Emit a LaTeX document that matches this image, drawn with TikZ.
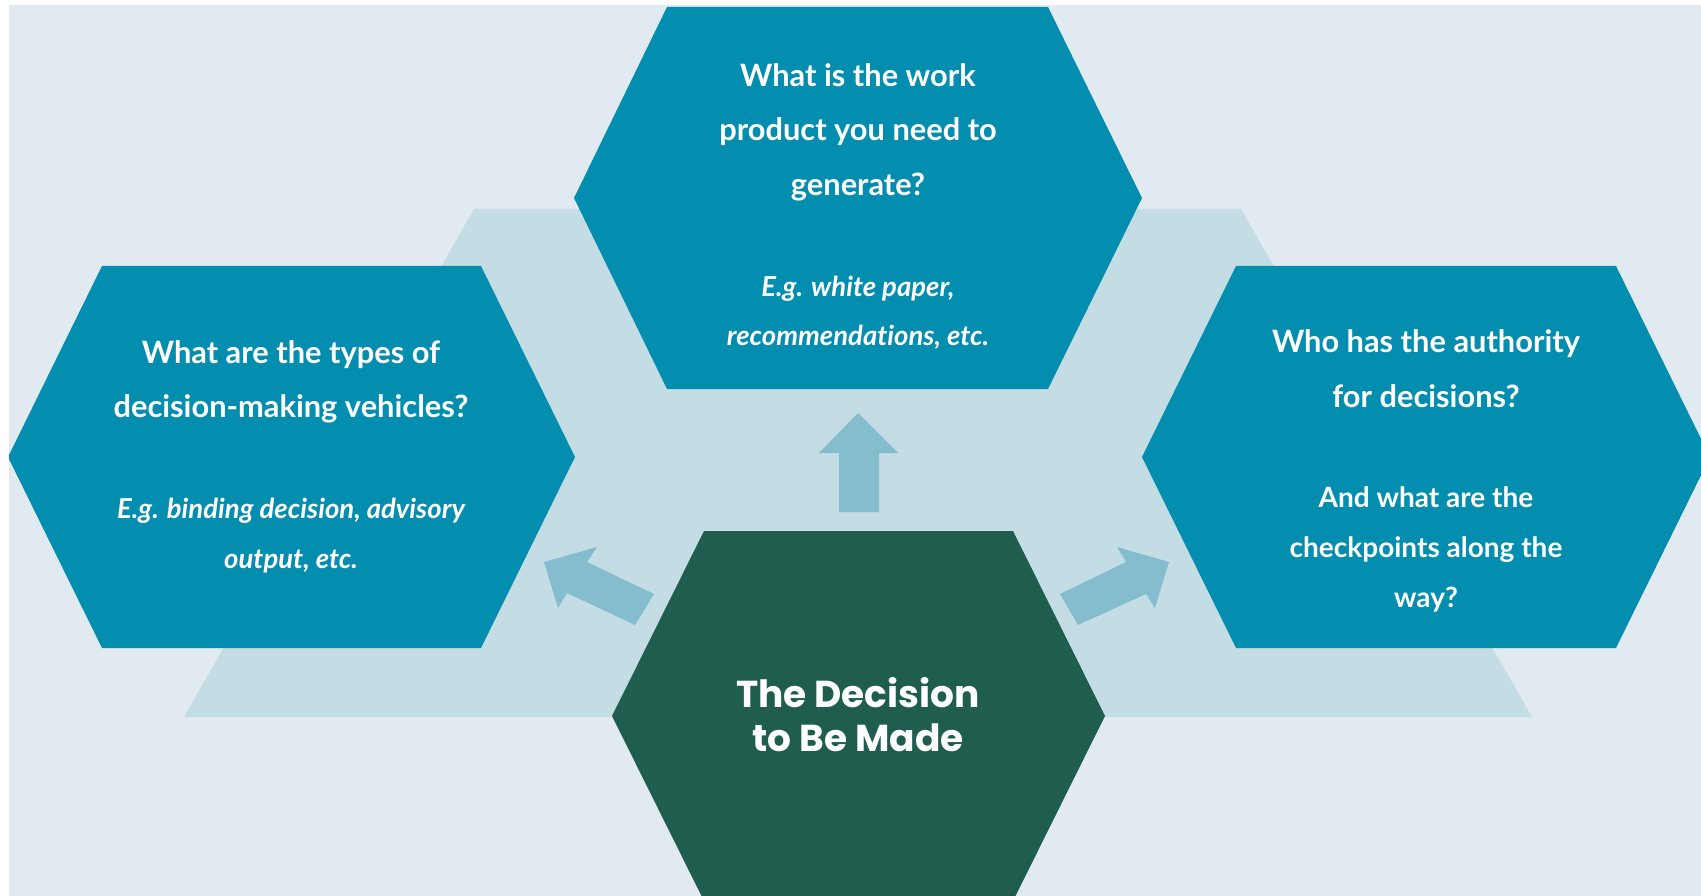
\documentclass[tikz,border=0pt]{standalone}
\usepackage{fontspec}
\setmainfont{Lato}[Ligatures={NoCommon,NoRare}]
\newfontfamily\popfont{Poppins}
\definecolor{bgc}{HTML}{E1EAF0}
\definecolor{trapc}{HTML}{C4DCE4}
\definecolor{tealc}{HTML}{038DAE}
\definecolor{greenc}{HTML}{1F5E4F}
\definecolor{arrowc}{HTML}{84BECE}
\tikzset{
  qline/.style={text=white, anchor=base, inner sep=0pt, font=\fontsize{30.8}{36}\selectfont\bfseries},
  eline/.style={text=white, anchor=base, inner sep=0pt, font=\fontsize{27.5}{32}\selectfont\bfseries\itshape},
  aline/.style={text=white, anchor=base, inner sep=0pt, font=\fontsize{28}{34}\selectfont\bfseries},
  tline/.style={text=white, anchor=base, inner sep=0pt, font=\fontsize{37.5}{42}\selectfont\popfont\bfseries},
}
\begin{document}
\begin{tikzpicture}[x=1pt,y=-1pt]
\useasboundingbox (0,0) rectangle (1701,896);
\fill[white] (0,0) rectangle (1701,896);
\fill[bgc] (9,5) rectangle (1701,896);
\begin{scope}
\clip (9,5) rectangle (1701,896);
% light trapezoid
\fill[trapc] (474,209) -- (1241,209) -- (1532,717) -- (184,717) -- cycle;
% hexagons
\fill[tealc] (667,7) -- (1048,7) -- (1142,198) -- (1048,389) -- (667,389) -- (574,198) -- cycle;
\fill[tealc] (102,266) -- (481,266) -- (575,457) -- (481,648) -- (102,648) -- (8,457) -- cycle;
\fill[tealc] (1236,266) -- (1616,266) -- (1710,457) -- (1616,648) -- (1236,648) -- (1142,457) -- cycle;
\fill[greenc] (704,531) -- (1013,531) -- (1105,716) -- (1013,901) -- (704,901) -- (612,716) -- cycle;
% arrows
\fill[arrowc] (858,413) -- (898,453) -- (879,453) -- (879,512) -- (839,512) -- (839,453) -- (819,453) -- cycle;
\fill[arrowc] (544,562) -- (597,547) -- (587,562) -- (654,594) -- (635,625) -- (567,593) -- (558,608) -- cycle;
\fill[arrowc] (1169,562) -- (1117,547) -- (1126,562) -- (1060,594) -- (1078,625) -- (1146,594) -- (1155,608) -- cycle;
\end{scope}
% top hexagon text
\node[qline] (ta) at (858,87) {What is the work};
\node[qline] (tb) at (858,141) {product you need to};
\node[qline] (tc) at (858,196) {generate?};
\node[eline] (td) at (858,297) {E.g. white paper,};
\node[eline] (te) at (858,345) {recommendations, etc.};
% left hexagon text
\node[qline] (la) at (291,363) {What are the types of};
\node[qline] (lb) at (291,417) {decision-making vehicles?};
\node[eline] (lc) at (291,518) {E.g. binding decision, advisory};
\node[eline] (ld) at (291,568) {output, etc.};
% right hexagon text
\node[qline] (ra) at (1426,352) {Who has the authority};
\node[qline] (rb) at (1426,407) {for decisions?};
\node[aline] (rc) at (1426,507) {And what are the};
\node[aline] (rd) at (1426,557) {checkpoints along the};
\node[aline] (re) at (1426,607) {way?};
% centre title
\node[tline] (ga) at (858,707) {The Decision};
\node[tline] (gb) at (858,751) {to Be Made};
\end{tikzpicture}
\end{document}
